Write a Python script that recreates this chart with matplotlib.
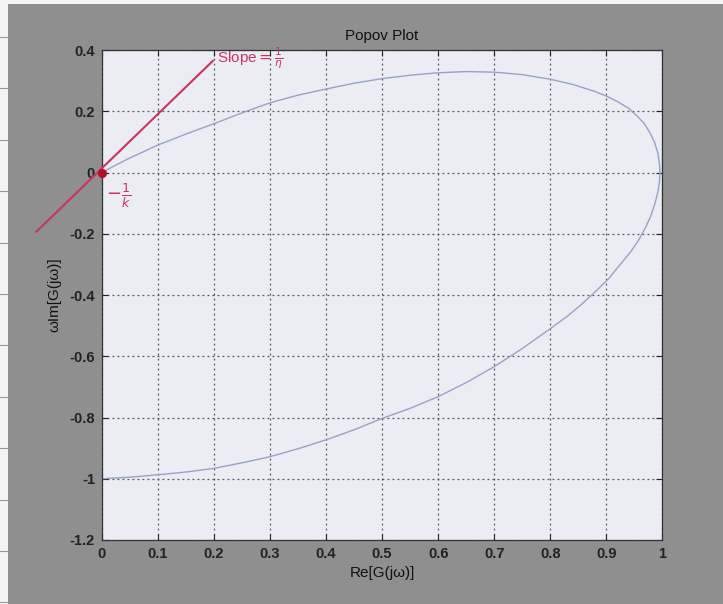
"""Popov plot of G(jw) with the Popov line drawn through -1/k."""

import matplotlib.pyplot as plt
from matplotlib.patches import Rectangle
from matplotlib.lines import Line2D

plt.rcParams.update({
    "font.family": ["Liberation Sans", "DejaVu Sans"],
    "axes.unicode_minus": False,
    "mathtext.fontset": "dejavusans",
})

# Popov locus: Re[G(jw)] against w*Im[G(jw)], read along increasing w
re_g = [0.0, 0.02, 0.05, 0.1, 0.15, 0.2, 0.25, 0.3, 0.35, 0.4, 0.45, 0.5,
        0.55, 0.6, 0.65, 0.7, 0.75, 0.8, 0.84, 0.88, 0.9, 0.92, 0.94, 0.955,
        0.968, 0.978, 0.986, 0.992, 0.995, 0.996, 0.995, 0.992, 0.987, 0.98,
        0.97, 0.958, 0.943, 0.925, 0.905, 0.88, 0.855, 0.83, 0.8, 0.75, 0.7,
        0.65, 0.6, 0.55, 0.5, 0.45, 0.4, 0.35, 0.3, 0.25, 0.2, 0.15, 0.1,
        0.05, 0.0]
w_im_g = [0.0, 0.02, 0.048, 0.09, 0.126, 0.16, 0.195, 0.228, 0.253, 0.273,
          0.292, 0.307, 0.318, 0.326, 0.33, 0.328, 0.32, 0.305, 0.288, 0.265,
          0.25, 0.232, 0.21, 0.185, 0.16, 0.13, 0.1, 0.065, 0.03, 0.0, -0.03,
          -0.065, -0.1, -0.14, -0.18, -0.22, -0.26, -0.3, -0.345, -0.39,
          -0.432, -0.47, -0.51, -0.575, -0.634, -0.686, -0.732, -0.77, -0.803,
          -0.84, -0.873, -0.902, -0.928, -0.948, -0.966, -0.978, -0.987,
          -0.995, -1.0]

# Hand-drawn Popov line and the -1/k point
popov_x = [-0.117, 0.198]
popov_y = [-0.193, 0.365]
crit_x, crit_y = 0.0, 0.0

x_ticks = [0, 0.1, 0.2, 0.3, 0.4, 0.5, 0.6, 0.7, 0.8, 0.9, 1]
x_labels = ["0", "0.1", "0.2", "0.3", "0.4", "0.5", "0.6", "0.7", "0.8", "0.9", "1"]
y_ticks = [0.4, 0.2, 0, -0.2, -0.4, -0.6, -0.8, -1, -1.2]
y_labels = ["0.4", "0.2", "0", "-0.2", "-0.4", "-0.6", "-0.8", "-1", "-1.2"]

pen = "#c83560"

fig = plt.figure(figsize=(7.23, 6.04), dpi=100, facecolor="#8f8f8f")
ax = fig.add_axes([0.141, 0.106, 0.775, 0.811])
ax.set_facecolor("#ececf4")

# paper margin with ruled lines
fig.add_artist(Rectangle((0, 0), 8 / 723, 1, transform=fig.transFigure,
                         facecolor="#f4f4f4", edgecolor="none"))
fig.add_artist(Rectangle((0, 1 - 4 / 604), 1, 4 / 604, transform=fig.transFigure,
                         facecolor="#f4f4f4", edgecolor="none"))
for i in range(12):
    yy = 1 - (37 + 51.4 * i) / 604
    fig.add_artist(Line2D([0, 8 / 723], [yy, yy], transform=fig.transFigure,
                          color="#9a9a9a", lw=0.8))

ax.plot(re_g, w_im_g, color="#94a3c6", lw=1.0)

ax.plot(popov_x, popov_y, color=pen, lw=1.5, clip_on=False, zorder=4)
ax.plot(crit_x, crit_y, "o", color="#b0102a", ms=5.5, clip_on=False, zorder=5)
ax.text(0.205, 0.372, r"Slope$=\frac{1}{\eta}$", color=pen, fontsize=11,
        ha="left", va="center", clip_on=False, zorder=6)
ax.text(0.008, -0.075, r"$-\frac{1}{k}$", color=pen, fontsize=13,
        ha="left", va="center", zorder=6)

ax.set_xlim(0, 1)
ax.set_ylim(-1.2, 0.4)
ax.set_xticks(x_ticks)
ax.set_xticklabels(x_labels, fontweight="bold", fontsize=10.5)
ax.set_yticks(y_ticks)
ax.set_yticklabels(y_labels, fontweight="bold", fontsize=10.5)
ax.tick_params(direction="in", top=True, right=True, length=4, width=0.8,
               colors="#222222", pad=5)
ax.grid(True, linestyle=(0, (1.5, 2.5)), color="#555555", lw=0.9)
for s in ax.spines.values():
    s.set_color("#333333")
    s.set_linewidth(0.9)

ax.set_title("Popov Plot", fontsize=11, color="#111111", pad=7)
ax.set_xlabel("Re[G(jω)]", fontsize=11, color="#111111", labelpad=4)
ax.set_ylabel("ωIm[G(jω)]", fontsize=11, color="#111111", labelpad=6)

fig.savefig("out.png", dpi=100, facecolor=fig.get_facecolor())
